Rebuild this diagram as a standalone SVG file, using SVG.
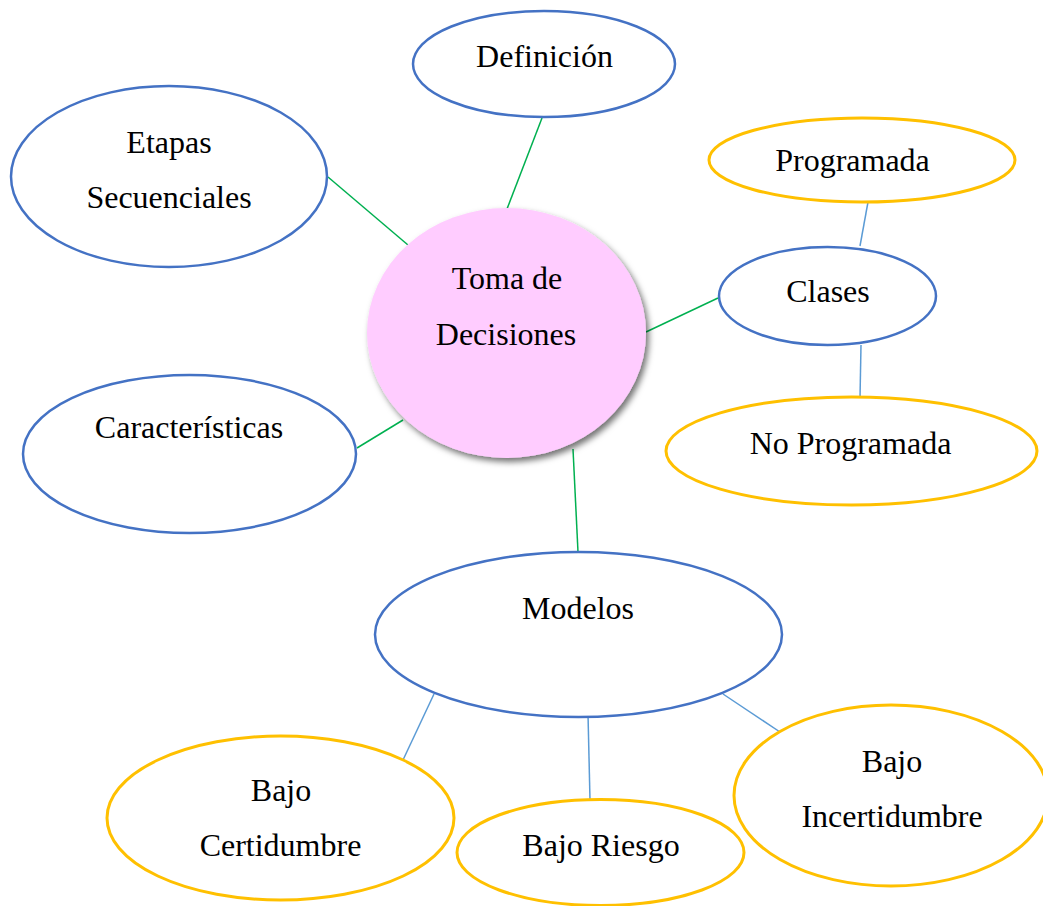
<svg xmlns="http://www.w3.org/2000/svg" width="1043" height="906" viewBox="0 0 1043 906">
<style>
.bg{fill:#ffffff}
.blue{fill:#ffffff;stroke:#4472C4;stroke-width:2.5}
.yel{fill:#ffffff;stroke:#FFC000;stroke-width:3}
.main{fill:#FFCCFF;stroke:none}
.g{stroke:#00B050;stroke-width:1.5;fill:none}
.b{stroke:#5B9BD5;stroke-width:1.5;fill:none}
text{font-family:"Liberation Serif","Times New Roman",serif;font-size:32px;fill:#000000;text-anchor:middle}
</style>
<defs>
<filter id="shadow" x="-20%" y="-20%" width="140%" height="140%">
<feDropShadow dx="3" dy="4" stdDeviation="3" flood-color="#000000" flood-opacity="0.55"/>
</filter>
</defs>
<rect class="bg" x="0" y="0" width="1043" height="906"/>
<g id="connectors">
<line class="g" x1="542" y1="118" x2="507" y2="209"/>
<line class="g" x1="328" y1="177" x2="408" y2="245"/>
<line class="g" x1="718" y1="298" x2="646" y2="332"/>
<line class="g" x1="357" y1="448" x2="403" y2="420"/>
<line class="g" x1="573" y1="449" x2="578" y2="552"/>
<line class="b" x1="868" y1="202" x2="860" y2="246"/>
<line class="b" x1="861" y1="345" x2="860" y2="398"/>
<line class="b" x1="434" y1="694" x2="403" y2="760"/>
<line class="b" x1="588" y1="714" x2="590" y2="800"/>
<line class="b" x1="723" y1="694" x2="780" y2="732"/>
</g>
<g id="toma-de-decisiones">
<ellipse class="main" cx="506.5" cy="333" rx="139.5" ry="125" filter="url(#shadow)"/>
<text x="507" y="289">Toma de</text>
<text x="506" y="345">Decisiones</text>
</g>
<g id="definicion">
<ellipse class="blue" cx="544" cy="64" rx="131" ry="53"/>
<text x="544.5" y="67">Definición</text>
</g>
<g id="etapas-secuenciales">
<ellipse class="blue" cx="169" cy="176.5" rx="158" ry="90.5"/>
<text x="169" y="153">Etapas</text>
<text x="169" y="208">Secuenciales</text>
</g>
<g id="caracteristicas">
<ellipse class="blue" cx="189.5" cy="454" rx="166.5" ry="79"/>
<text x="189" y="438">Características</text>
</g>
<g id="clases">
<ellipse class="blue" cx="827.5" cy="296" rx="108.5" ry="49"/>
<text x="828" y="302">Clases</text>
</g>
<g id="programada">
<ellipse class="yel" cx="862" cy="160" rx="153" ry="42"/>
<text x="852.5" y="171">Programada</text>
</g>
<g id="no-programada">
<ellipse class="yel" cx="851.5" cy="451" rx="185.5" ry="54"/>
<text x="850.5" y="454">No Programada</text>
</g>
<g id="modelos">
<ellipse class="blue" cx="578.5" cy="634.5" rx="203.5" ry="82.5"/>
<text x="578" y="619">Modelos</text>
</g>
<g id="bajo-certidumbre">
<ellipse class="yel" cx="280.5" cy="818" rx="173.5" ry="82"/>
<text x="281" y="801">Bajo</text>
<text x="280.5" y="856">Certidumbre</text>
</g>
<g id="bajo-riesgo">
<ellipse class="yel" cx="600.5" cy="852.5" rx="143.5" ry="53"/>
<text x="601" y="856">Bajo Riesgo</text>
</g>
<g id="bajo-incertidumbre">
<ellipse class="yel" cx="891" cy="795.5" rx="157" ry="90.5"/>
<text x="892" y="772">Bajo</text>
<text x="892" y="827">Incertidumbre</text>
</g>
</svg>
